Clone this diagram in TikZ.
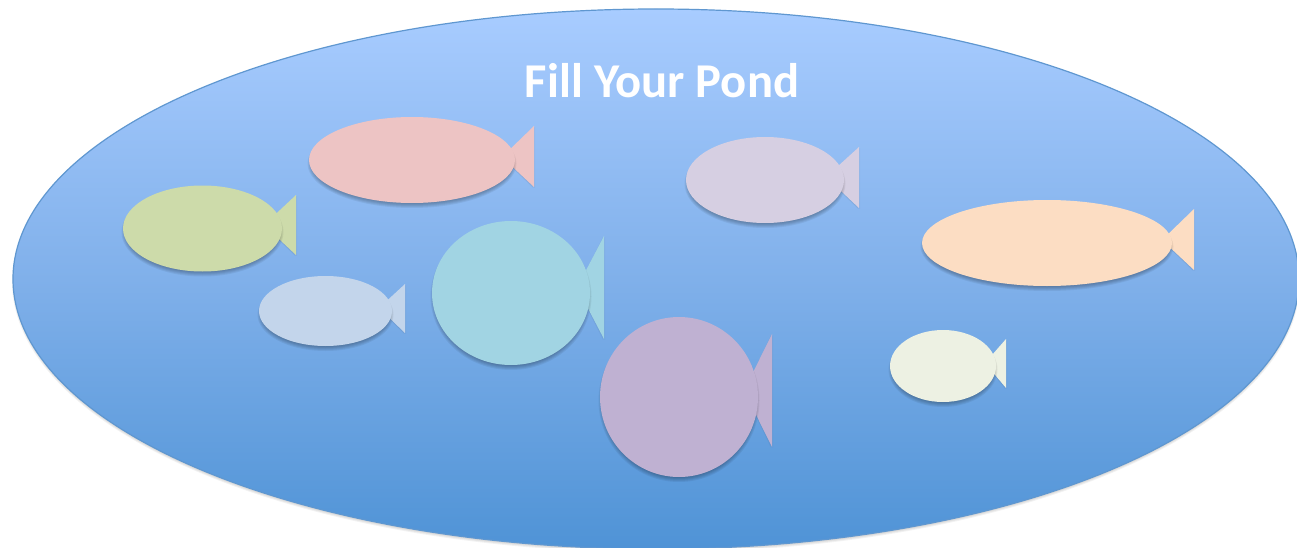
\documentclass[tikz,border=0pt]{standalone}
\usepackage{fontspec}
\setmainfont{Carlito}
\definecolor{fgreen}{HTML}{CDDBAA}
\definecolor{fpink}{HTML}{EDC4C4}
\definecolor{flav}{HTML}{D6CFE2}
\definecolor{fpeach}{HTML}{FCDDC3}
\definecolor{fblue}{HTML}{C3D5EB}
\definecolor{fteal}{HTML}{A1D4E3}
\definecolor{fpurple}{HTML}{BFB1D2}
\definecolor{fcream}{HTML}{EDF1E3}
\definecolor{pondtop}{HTML}{A8CCFF}
\definecolor{pondmid}{HTML}{80B0EA}
\definecolor{pondbot}{HTML}{4F93D6}
\definecolor{pondline}{HTML}{5F97D0}
\tikzset{
  pondshade/.style={top color=pondtop,bottom color=pondbot,middle color=pondmid,shading angle=0},
  softshadow/.style={fill=black,fill opacity=0.06,draw=none},
  tailshadow/.style={fill=black,fill opacity=0.03,draw=none},
  title/.style={text=white,font=\fontsize{48.6}{48.6}\selectfont\bfseries,inner sep=0pt,anchor=center}
}
% centre x, centre y, rx, ry, tail x, tail top y, tail bottom y, apex x, apex y (colour: fishcol)
\newcommand{\fishshape}[9]{%
  \foreach \g in {1,0,-1}{
    \fill[tailshadow] (#5+\g,#6+1) -- (#5+\g,#7+1) -- (#8,#9+1) -- cycle;
  }
  \fill[fishcol] (#5,#6) -- (#5,#7) -- (#8,#9) -- cycle;
  \foreach \g in {1.5,0.5,-0.5,-1.5,-2.5}{
    \fill[softshadow] (#1,#2+3.5) ellipse [x radius=#3+\g,y radius=#4+\g];
  }
  \fill[fishcol] (#1,#2) ellipse [x radius=#3,y radius=#4];
}
\begin{document}
\begin{tikzpicture}[x=1pt,y=-1pt]
\useasboundingbox (0,0) rectangle (1297,548);
\clip (0,0) rectangle (1297,548);
\fill[white] (0,0) rectangle (1297,548);
\foreach \g in {1,0,-1}{
  \fill[softshadow,fill opacity=0.05] (656,281.5) ellipse [x radius=643+\g,y radius=270+\g];
}
\path[pondshade,draw=pondline,line width=1.2pt] (656,279) ellipse [x radius=643,y radius=270];
\node[title] (pondtitle) at (662,81) {Fill Your Pond};
\colorlet{fishcol}{fgreen}\fishshape{202.5}{228.5}{79.5}{43}{296}{195}{255}{264}{225}
\colorlet{fishcol}{fpink}\fishshape{412}{160}{103}{43}{534}{126}{187}{502}{157}
\colorlet{fishcol}{flav}\fishshape{765}{180}{79}{43}{859}{147}{208}{826}{177}
\colorlet{fishcol}{fpeach}\fishshape{1047}{243}{125}{43}{1194}{209}{270}{1162}{240}
\colorlet{fishcol}{fblue}\fishshape{325.5}{311}{66.5}{35}{405}{284}{333}{379}{308}
\colorlet{fishcol}{fteal}\fishshape{511}{293}{79}{72}{604}{236}{339}{577}{287.5}
\colorlet{fishcol}{fpurple}\fishshape{679}{397}{79}{80}{772}{334}{447}{744}{390.5}
\colorlet{fishcol}{fcream}\fishshape{943}{366}{53}{36}{1006}{339}{388}{985}{363}
\end{tikzpicture}
\end{document}
